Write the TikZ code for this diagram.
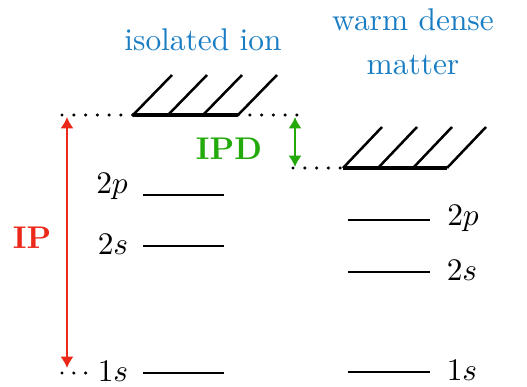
\documentclass[tikz,border=0pt]{standalone}
\usetikzlibrary{arrows.meta}
\definecolor{tblue}{RGB}{25,125,195}
\definecolor{tred}{RGB}{235,40,25}
\definecolor{tgreen}{RGB}{35,170,10}
\begin{document}
\begin{tikzpicture}[x=0.3185pt,y=-0.3185pt,
  level/.style={line width=0.9pt},
  cont/.style={line width=1.5pt},
  hatch/.style={line width=0.8pt},
  dots/.style={line width=1.1pt,line cap=round,dash pattern=on 0pt off 3.75pt},
  lab/.style={inner sep=0pt,anchor=center},
  title/.style={text=tblue,inner sep=0pt,align=center},
  arr/.style={line width=0.9pt,{Latex[length=3.6pt,width=4.2pt]}-{Latex[length=3.6pt,width=4.2pt]}}]
\useasboundingbox (0,0) rectangle (527,386);
% titles
\node[title] (tiso) at (203,40) {isolated ion};
\node[title,align=center] (twdm) at (413,42) {warm dense\\[2pt]matter};
% isolated ion continuum
\coordinate (c1a) at (133,115);
\coordinate (c1b) at (238,115);
\draw[cont] (c1a) -- (c1b);
\foreach \x in {133,168,203,238}{\draw[hatch] (\x,115) -- ++(39,-40);}
\coordinate (d1a) at (62,115);
\coordinate (d1b) at (298,115);
\draw[dots] (d1a) -- (c1a);
\draw[dots] (c1b) -- (d1b);
% wdm continuum
\coordinate (c2a) at (343,168);
\coordinate (c2b) at (447,168);
\draw[cont] (c2a) -- (c2b);
\foreach \x in {343,378,413,447}{\draw[hatch] (\x,168) -- ++(39,-41);}
\coordinate (d2a) at (293,168);
\draw[dots] (d2a) -- (c2a);
% isolated levels
\draw[level] (143,195) -- (224,195);
\draw[level] (143,246) -- (224,246);
\draw[level] (143,373) -- (224,373);
\node[lab] (l2p) at (112,186) {$2p$};
\node[lab] (l2s) at (113,244) {$2s$};
\node[lab] (l1s) at (113,371) {$1s$};
\coordinate (d3a) at (62,373);
\coordinate (d3b) at (86,373);
\draw[dots] (d3a) -- (d3b);
% wdm levels
\draw[level] (348,220) -- (430,220);
\draw[level] (348,272) -- (430,272);
\draw[level] (348,372) -- (430,372);
\node[lab] (r2p) at (463,218) {$2p$};
\node[lab] (r2s) at (462,270) {$2s$};
\node[lab] (r1s) at (462,370) {$1s$};
% arrows
\coordinate (ipt) at (67,117);
\coordinate (ipb) at (67,368);
\draw[arr,tred] (ipt) -- (ipb);
\node[lab,text=tred,font=\bfseries] (ip) at (32,238) {IP};
\coordinate (ipdt) at (295,117);
\coordinate (ipdb) at (295,167);
\draw[arr,tgreen] (ipdt) -- (ipdb);
\node[lab,text=tgreen,font=\bfseries] (ipd) at (229,149) {IPD};
\end{tikzpicture}
\end{document}
